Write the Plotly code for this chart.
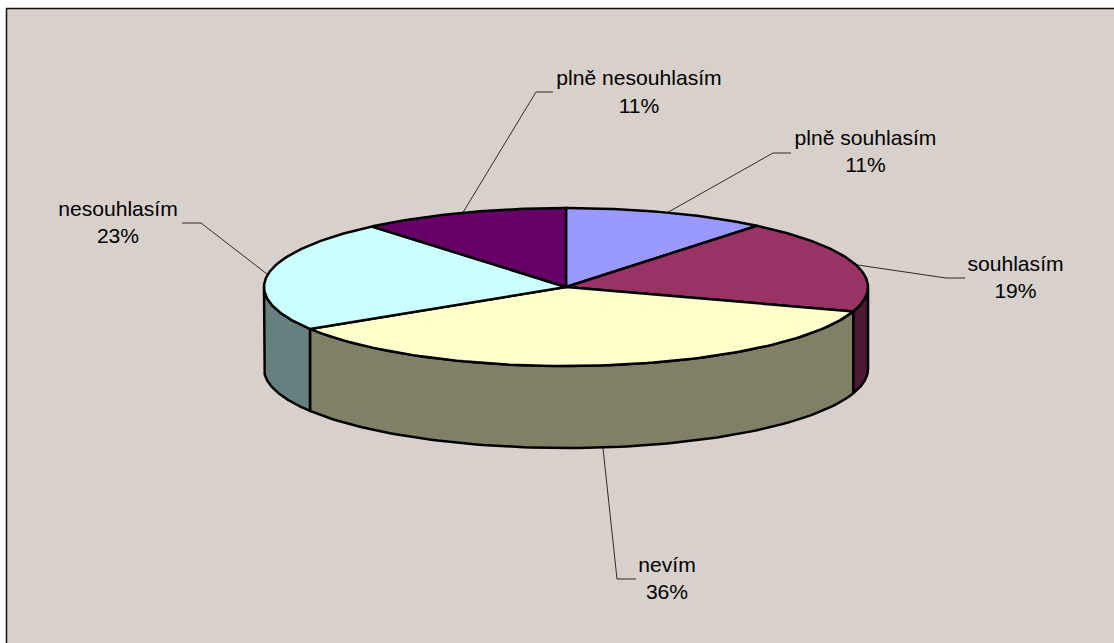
import numpy as np
import plotly.graph_objects as go

categories = ["plně souhlasím", "souhlasím", "nevím", "nesouhlasím", "plně nesouhlasím"]
values = [10.9, 19.1, 36.1, 22.8, 11.1]
top_colors = ["#9999FF", "#993366", "#FFFFCC", "#CCFFFF", "#660066"]
side_colors = ["#4D4D80", "#4D1A33", "#808066", "#668080", "#330033"]

# label centres (x, name y, percent y) and leader elbows
label_x = [865.5, 1015.5, 667, 118, 639]
name_y = [140, 266, 567, 211, 80]
pct_y = [167, 293, 594, 238, 108]
elbow = [(773, 153), (946, 278), (617, 579), (201, 223), (536, 92)]
leader_end = [(791, 153), (965, 278), (636, 579), (182, 223), (553, 92)]

W, H = 1114, 643
CX, CY, RX, RY, DEPTH = 566, 287, 302, 79, 82
EDGE = "#000000"

total = sum(values)
edges = np.cumsum([0] + values) / total * 360.0


def rim(theta, drop=0.0):
    t = np.radians(theta)
    return CX + RX * np.sin(t), CY - RY * np.cos(t) + drop


fig = go.Figure()

# visible walls of the disc
for i, c in enumerate(categories):
    a, b = max(edges[i], 90.0), min(edges[i + 1], 270.0)
    if a >= b:
        continue
    th = np.linspace(a, b, 100)
    xt, yt = rim(th)
    xb, yb = rim(th[::-1], DEPTH)
    fig.add_trace(go.Scatter(
        x=np.r_[xt, xb, xt[0]], y=np.r_[yt, yb, yt[0]], mode="lines", fill="toself",
        fillcolor=side_colors[i], line=dict(color=EDGE, width=2.5), hoverinfo="skip", showlegend=False))

# top faces
for i, c in enumerate(categories):
    th = np.linspace(edges[i], edges[i + 1], 100)
    xt, yt = rim(th)
    fig.add_trace(go.Scatter(
        x=np.r_[CX, xt, CX], y=np.r_[CY, yt, CY], mode="lines", fill="toself", name=c,
        fillcolor=top_colors[i], line=dict(color=EDGE, width=2.5), showlegend=False))

# leader lines start from the middle of each slice's rim
for i, c in enumerate(categories):
    mid = (edges[i] + edges[i + 1]) / 2
    x0, y0 = rim(mid, DEPTH if 90 < mid < 270 else 0)
    fig.add_trace(go.Scatter(
        x=[x0, elbow[i][0], leader_end[i][0]], y=[y0, elbow[i][1], leader_end[i][1]],
        mode="lines", line=dict(color="#000000", width=0.8), hoverinfo="skip", showlegend=False))

font = dict(family="Liberation Sans, Arial", size=21.1, color="#000000")
fig.add_trace(go.Scatter(x=label_x, y=name_y, mode="text", text=categories,
                         textposition="middle center", textfont=font, hoverinfo="skip", showlegend=False))
fig.add_trace(go.Scatter(x=label_x, y=pct_y, mode="text",
                         text=[f"{round(v / total * 100)}%" for v in values],
                         textposition="middle center", textfont=font, hoverinfo="skip", showlegend=False))

fig.add_shape(type="rect", x0=6.5, y0=8.5, x1=W + 20, y1=H + 20, layer="below",
              fillcolor="#D8D0CB", line=dict(color="#111111", width=1.5))

fig.update_layout(
    width=W, height=H, margin=dict(l=0, r=0, t=0, b=0),
    paper_bgcolor="#FFFFFF", plot_bgcolor="#FFFFFF",
    xaxis=dict(range=[0, W], visible=False, fixedrange=True),
    yaxis=dict(range=[H, 0], visible=False, fixedrange=True),
)
fig.write_html("out.html", config=dict(displayModeBar=False),
               post_script="document.body.style.margin='0';document.body.style.overflow='hidden';")
